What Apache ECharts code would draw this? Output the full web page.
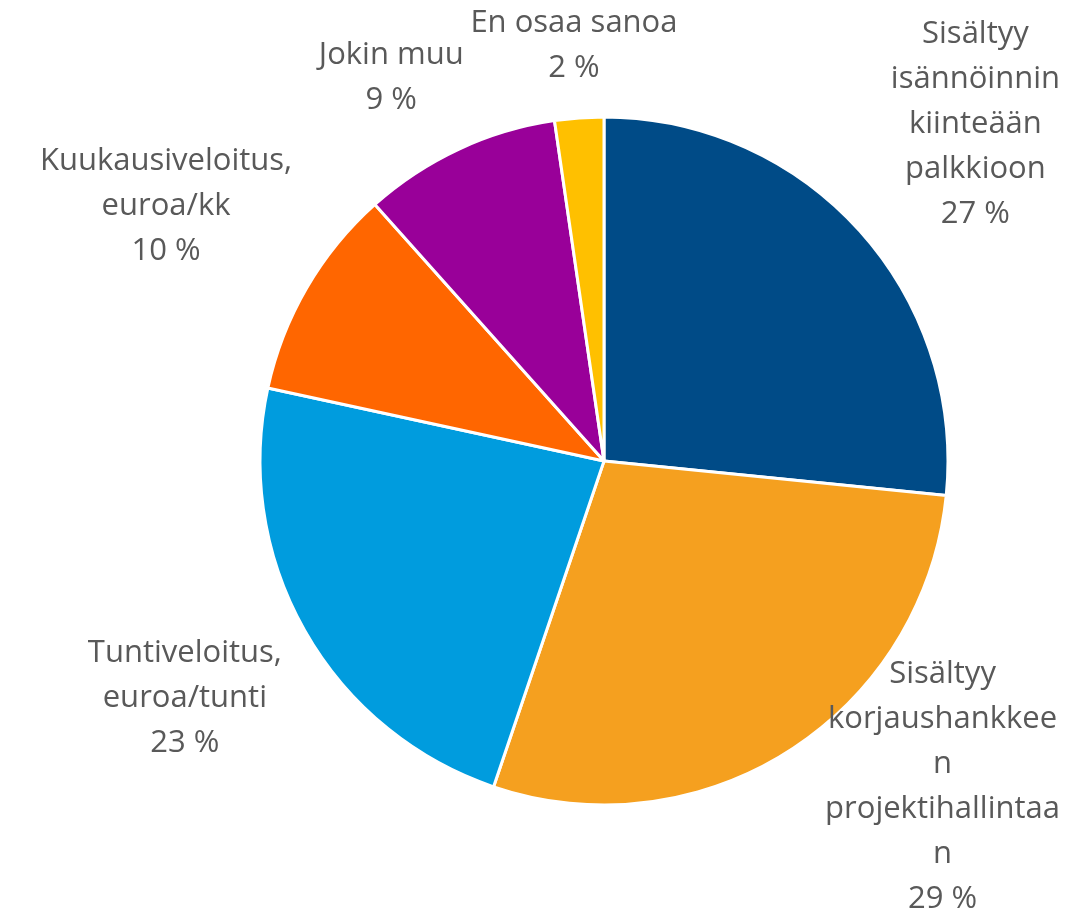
<!DOCTYPE html>
<html>
<head>
<meta charset="utf-8">
<script src="https://cdn.jsdelivr.net/npm/echarts@6/dist/echarts.min.js"></script>
<style>
  html, body { margin: 0; padding: 0; background: #fff; }
  #chart { width: 1066px; height: 922px; }
</style>
</head>
<body>
<div id="chart"></div>
<script>
// kategoriat (rivinvaihdot kuten alkuperäisessä kuvassa)
const categories = [
  'Sisältyy\nisännöinnin\nkiinteään\npalkkioon',
  'Sisältyy\nkorjaushankkee\nn\nprojektihallintaa\nn',
  'Tuntiveloitus,\neuroa/tunti',
  'Kuukausiveloitus,\neuroa/kk',
  'Jokin muu',
  'En osaa sanoa'
];
const values = [26.6, 28.6, 23.2, 10.0, 9.3, 2.3];
const colors = ['#004B87', '#F5A01F', '#009CDE', '#FF6600', '#990099', '#FFC000'];

const W = 1066, H = 922;
const radius = 344;
const cx = 604, cy = 461;
const labelGap = 20;
const edge = 6;
const fontSize = 31, lineHeight = 45;
const fontFamily = '"Open Sans", sans-serif';

const total = values.reduce((a, b) => a + b, 0);
const labelText = (i) => categories[i] + '\n' + Math.round(values[i] / total * 100) + ' %';

// mitataan tekstit etukäteen, jotta labelit voidaan asetella kuten Excelissä
const ctx = document.createElement('canvas').getContext('2d');
ctx.font = fontSize + 'px ' + fontFamily;
const boxes = categories.map((c, i) => {
  const lines = labelText(i).split('\n');
  const w = Math.max(...lines.map(l => ctx.measureText(l).width));
  return { w: w, h: lines.length * lineHeight };
});

const clampX = (x, b) => Math.min(Math.max(x, b.w / 2 + edge), W - b.w / 2 - edge);
const clampY = (y, b) => Math.min(Math.max(y, b.h / 2), H - b.h / 2);

const place = (i, ang) => {
  const ux = Math.sin(ang), uy = -Math.cos(ang);
  const b = boxes[i];
  const d = radius + labelGap + Math.abs(ux) * b.w / 2 + Math.abs(uy) * b.h / 2;
  let x = clampX(cx + ux * d, b);
  let y0 = cy + uy * d;
  let y = clampY(y0, b);
  if (y !== y0) {
    // reunaan osunut label siirretään sivulle, ettei se mene piirakan päälle
    const ny = Math.max(0, Math.abs(y - cy) - b.h / 2);
    const r = radius + labelGap;
    if (ny < r) {
      const need = Math.sqrt(r * r - ny * ny) + b.w / 2;
      x = clampX(cx + Math.sign(ux) * Math.max(Math.abs(x - cx), need), b);
    }
  }
  return { x: x, y: y };
};
const overlaps = (i, p, j, q) =>
  Math.abs(p.x - q.x) < (boxes[i].w + boxes[j].w) / 2 &&
  Math.abs(p.y - q.y) < (boxes[i].h + boxes[j].h) / 2;

const midAngles = [];
let acc = 0;
values.forEach(v => { midAngles.push((acc + v / 2) / total * Math.PI * 2); acc += v; });
const labelPos = midAngles.map((a, i) => place(i, a));
for (let i = values.length - 2; i >= 0; i--) {
  let a = midAngles[i];
  while (overlaps(i, labelPos[i], i + 1, labelPos[i + 1]) && a > midAngles[i] - 0.6) {
    a -= Math.PI / 180;
    labelPos[i] = place(i, a);
  }
}

const chart = echarts.init(document.getElementById('chart'));

const option = {
  animation: false,
  series: [{
    type: 'pie',
    center: [cx, cy],
    radius: radius,
    startAngle: 90,
    clockwise: true,
    data: categories.map((name, i) => ({ name: name, value: values[i], itemStyle: { color: colors[i] } })),
    itemStyle: { borderColor: '#ffffff', borderWidth: 3 },
    label: {
      show: true,
      position: 'outside',
      color: '#595959',
      fontFamily: fontFamily,
      fontSize: fontSize,
      lineHeight: lineHeight,
      align: 'center',
      overflow: 'none',
      formatter: (p) => labelText(p.dataIndex)
    },
    labelLine: { show: false },
    labelLayout: (params) => {
      const p = labelPos[params.dataIndex];
      return { x: p.x, y: p.y, align: 'center', verticalAlign: 'middle', width: boxes[params.dataIndex].w + 10 };
    }
  }]
};
chart.setOption(option);
</script>
</body>
</html>
